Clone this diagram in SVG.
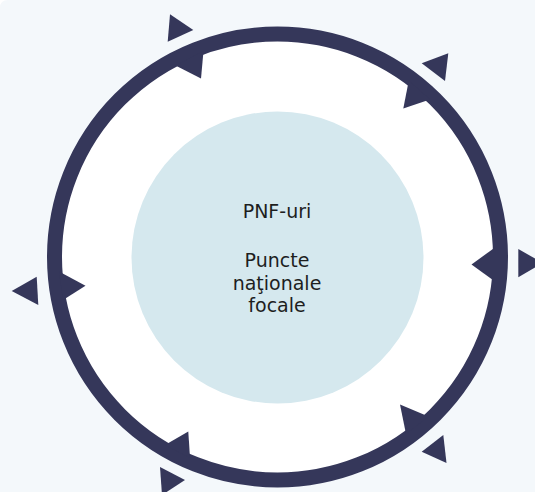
<svg xmlns="http://www.w3.org/2000/svg" width="535" height="492" viewBox="0 0 535 492">
<style>
.bg{fill:#f4f8fb}
.ring{fill:#ffffff;stroke:#35375a;stroke-width:15}
.hub{fill:#d5e8ee}
.arr{fill:#35375a}
.lbl{font-family:"DejaVu Sans",Verdana,sans-serif;font-size:19px;fill:#1e1e1e;text-anchor:middle}
</style>
<path class="bg" d="M8,0 H535 V492 H0 V8 Q0,0 8,0 Z"/>
<g id="cycle">
<circle class="ring" cx="277.5" cy="257" r="223"/>
</g>
<g id="hub">
<circle class="hub" cx="277.5" cy="257.5" r="146"/>
<text class="lbl" x="277" y="218">PNF-uri</text>
<text class="lbl" x="277" y="267">Puncte</text>
<text class="lbl" x="277" y="289.5">naţionale</text>
<text class="lbl" x="277" y="311.5">focale</text>
</g>
<g id="connectors">
<polygon class="arr" points="170,14.3 193.3,30 167.7,41.7"/>
<polygon class="arr" points="175.5,65.5 203.5,51 201,78.5"/>
<polygon class="arr" points="421.7,63.3 448.3,53.3 445,81"/>
<polygon class="arr" points="408.8,80.5 403.3,108.5 430,99.5"/>
<polygon class="arr" points="518.3,249 518.3,277.3 542.8,263"/>
<polygon class="arr" points="471.5,264.5 497,246 497,283"/>
<polygon class="arr" points="421.7,451.7 443.3,435 446.5,463"/>
<polygon class="arr" points="400,404.5 406,434 428.5,416.5"/>
<polygon class="arr" points="160,467 185,480 162,495"/>
<polygon class="arr" points="188.3,431.5 190,458 165,445"/>
<polygon class="arr" points="11.7,291 36.7,276.7 38.3,305"/>
<polygon class="arr" points="59,271.5 63,300 85.5,285.7"/>
</g>
</svg>
